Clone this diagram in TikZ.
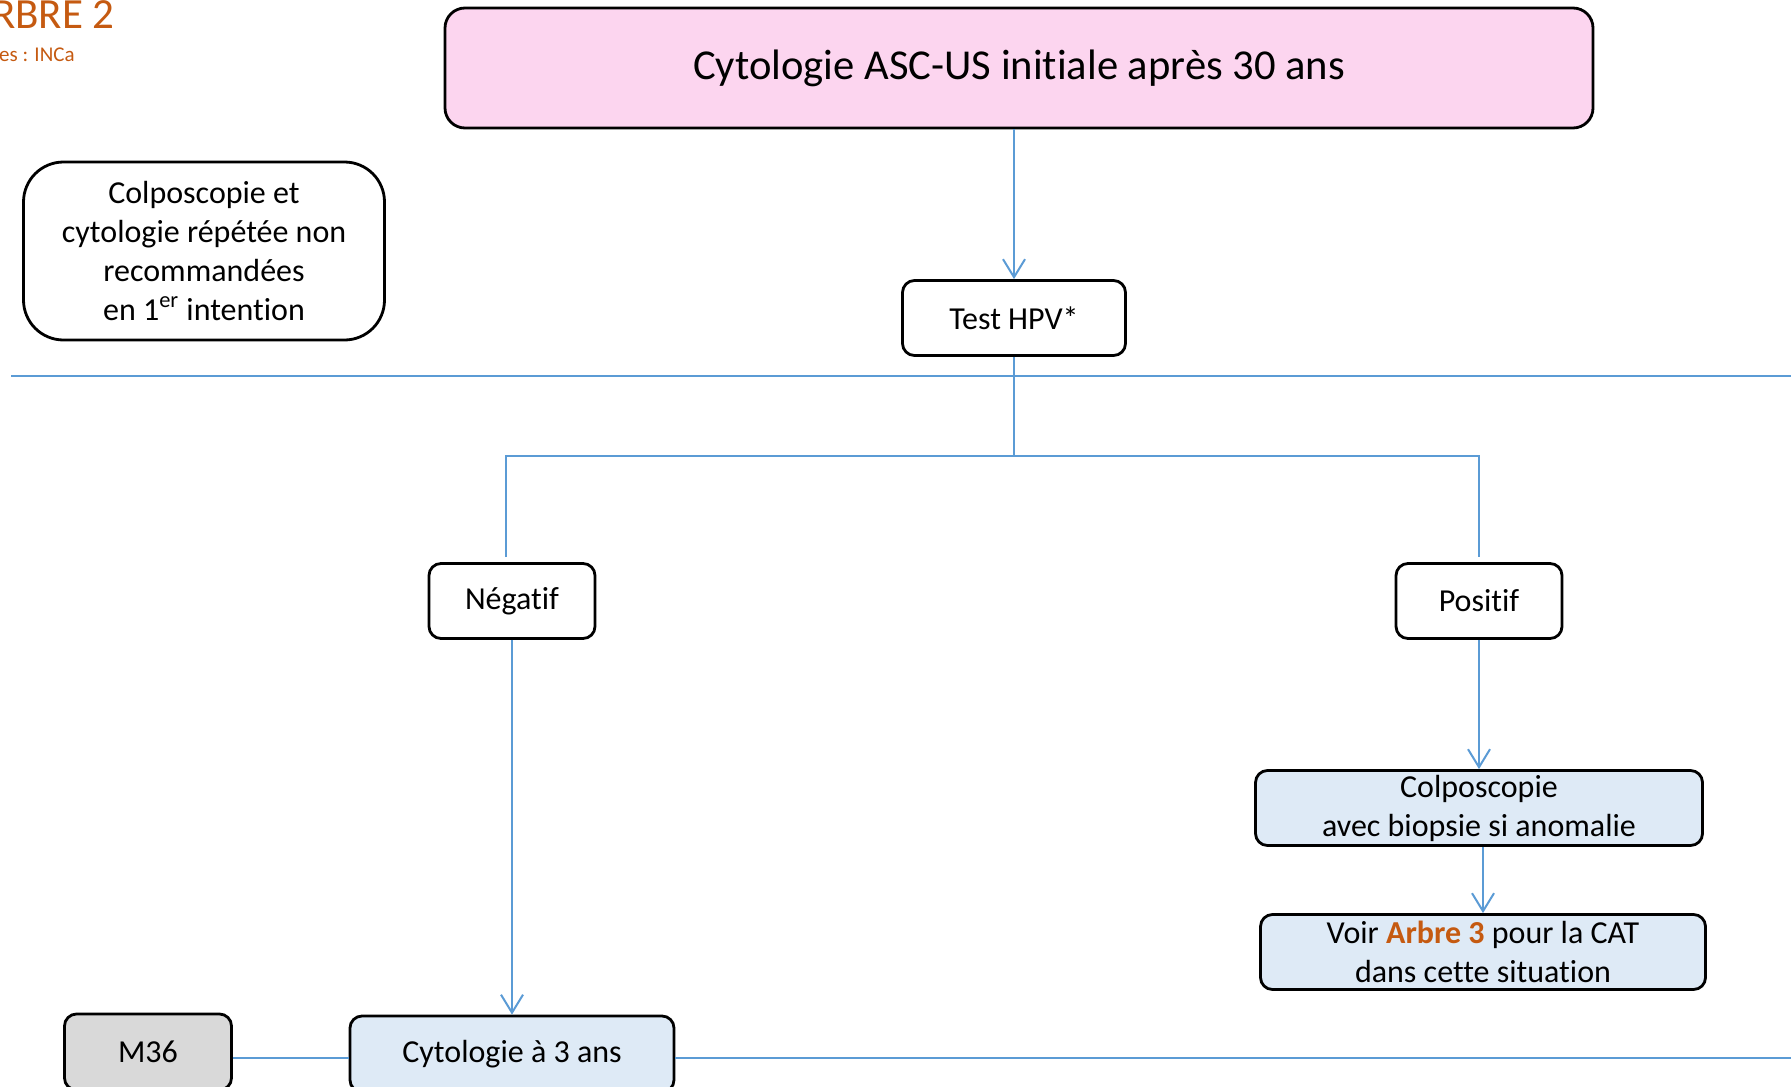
\documentclass[tikz,border=0pt]{standalone}
\usepackage{fontspec}
\setmainfont{Carlito}[Ligatures={NoCommon,NoRequired,NoContextual}]
\usepackage{tikz}
\usetikzlibrary{arrows.meta}
\definecolor{linkblue}{HTML}{5B9BD5}
\definecolor{titlepink}{HTML}{FCD5EF}
\definecolor{boxblue}{HTML}{DEEAF6}
\definecolor{boxgrey}{HTML}{D9D9D9}
\definecolor{arbreorange}{HTML}{C55A11}
\tikzset{
  box/.style={draw=black,line width=1.4pt,rounded corners=6pt,align=center,
    inner sep=0pt,minimum height=37.5pt,font=\fontsize{16}{19.5}\selectfont},
  link/.style={draw=linkblue,line width=1pt},
  arrowlink/.style={link,-{Straight Barb[length=9pt,width=11pt]}}
}

\begin{document}
\begin{tikzpicture}[x=0.5pt,y=-0.5pt]
    \useasboundingbox (0,0) rectangle (1791,1086);
    % headings, cut by the page edge
    \node[anchor=base east,text=arbreorange,font=\fontsize{21.5}{21.5}\selectfont,inner sep=0pt]
      (arbre) at (115,29) {ARBRE 2};
    \node[anchor=base east,text=arbreorange,font=\fontsize{10.5}{10.5}\selectfont,inner sep=0pt]
      (source) at (75,62) {Sources : INCa};
    % boxes
    \node[box,fill=titlepink,rounded corners=10pt,minimum width=574pt,minimum height=60pt,
      font=\fontsize{21.3}{25}\selectfont] (title) at (1019,68) {Cytologie ASC-US initiale après 30 ans};
    \node[box,rounded corners=20pt,minimum width=180.5pt,minimum height=89pt] (note) at (204,251)
      {Colposcopie et\\cytologie répétée non\\recommandées\\en 1\textsuperscript{er} intention};
    \node[box,minimum width=111.5pt] (test) at (1014,318) {Test HPV*};
    \node[box,minimum width=83pt] (neg) at (512,601) {Négatif};
    \node[box,minimum width=83pt] (pos) at (1479,601) {Positif};
    \node[box,fill=boxblue,minimum width=223.5pt] (colpo) at (1479,808)
      {Colposcopie\\avec biopsie si anomalie};
    \node[box,fill=boxblue,minimum width=222.5pt] (voir) at (1483,952)
      {Voir \textbf{\color{arbreorange}Arbre 3} pour la CAT\\dans cette situation};
    \node[box,fill=boxblue,minimum width=162pt,minimum height=38pt] (cyto) at (512,1054) {Cytologie à 3 ans};
    \node[box,fill=boxgrey,minimum width=83.5pt,minimum height=38pt] (m36) at (148,1052) {M36};
    % separators
    \coordinate (sepl) at (11,376);
    \coordinate (sepr) at (1791,376);
    \coordinate (split) at (1014,456);
    \coordinate (timeend) at (1791,1058);
    \draw[link] (sepl) -- (sepr);
    % connectors
    \draw[arrowlink] (title.south -| test.north) -- (test.north);
    \draw[link] (test.south) -- (split);
    \draw[link] ([xshift=-3pt,yshift=2.5pt]neg.north) |- (split) -| ([yshift=2.5pt]pos.north);
    \draw[arrowlink] (neg.south) -- (cyto.north);
    \draw[arrowlink] (pos.south) -- (colpo.north);
    \draw[arrowlink] (colpo.south -| voir.north) -- (voir.north);
    \draw[link] (m36.east |- timeend) -- (cyto.west |- timeend);
    \draw[link] (cyto.east |- timeend) -- (timeend);
\end{tikzpicture}
\end{document}
